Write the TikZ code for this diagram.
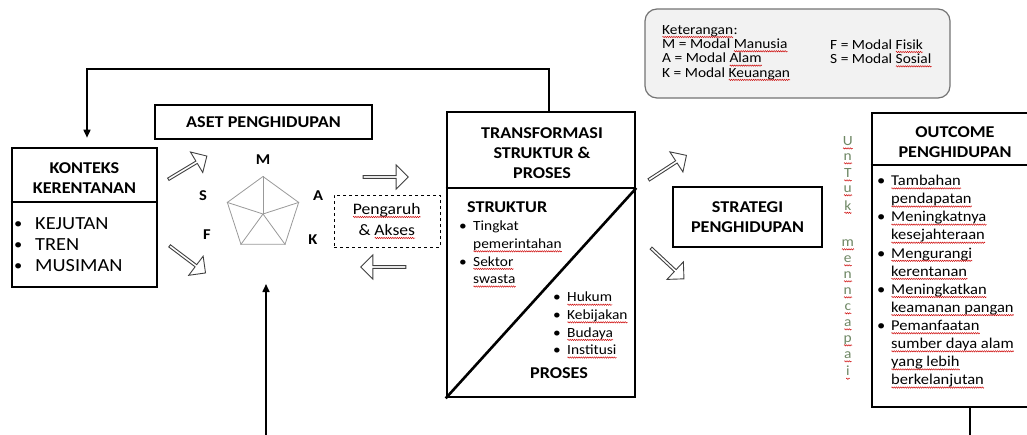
\documentclass[tikz,border=0pt]{standalone}
\usepackage{fontspec}
\setmainfont{Carlito}[FakeStretch=1.1]
\usetikzlibrary{arrows.meta,shapes.geometric,shapes.arrows,decorations.pathmorphing}

\newsavebox{\sqbox}
\newlength{\sqw}
\newcommand{\sq}[1]{\sbox{\sqbox}{#1}\setlength{\sqw}{\wd\sqbox}%
  \leavevmode\rlap{\usebox{\sqbox}}%
  \tikz[baseline=0pt,x=1pt,y=1pt]\draw[solid, red!80!black, line width=0.45pt, decorate,
    decoration={zigzag, amplitude=0.7pt, segment length=2.2pt}] (0,-2.8) -- (\sqw,-2.8);}
\newcommand{\bul}{\makebox[21pt][l]{\raisebox{1pt}{\fontsize{15}{15}\selectfont\textbullet}}}
\newcommand{\bulk}{\makebox[14pt][l]{\textbullet}}
\newcommand{\indk}{\hspace*{14pt}}
\definecolor{hijauabu}{RGB}{110,135,100}

\tikzset{
  tebal/.style={draw, line width=2.6pt},
  judul/.style={font=\fontsize{16.5}{20}\selectfont\bfseries, align=center, inner sep=0pt},
  isi/.style={font=\fontsize{18.5}{21}\selectfont, align=left, inner sep=0pt, anchor=north west},
  kecil/.style={font=\fontsize{14}{17.6}\selectfont, align=left, inner sep=0pt, anchor=north west},
  kecilb/.style={font=\fontsize{15}{18.1}\selectfont, align=left, inner sep=0pt, anchor=north west},
  ketx/.style={font=\fontsize{14}{14.3}\selectfont, align=left, inner sep=0pt, anchor=north west},
  huruf/.style={font=\fontsize{15}{16}\selectfont\bfseries, inner sep=0pt},
  panah/.style={single arrow, draw=black!75, fill=white, line width=0.9pt, minimum height=45pt,
    minimum width=24pt, single arrow head extend=3.5pt, inner sep=0pt},
  garis/.style={line width=1.6pt},
}

\begin{document}
\begin{tikzpicture}[x=1pt,y=-1pt]
  \useasboundingbox (0,0) rectangle (1027,434);
  \clip (0,0) rectangle (1027,434);

  % keterangan
  \node[draw=black!55, line width=1.2pt, fill=black!5, rounded corners=12pt,
    minimum width=305pt, minimum height=89pt] (ket) at (797.5,53.5) {};
  \node[ketx] (ketkiri) at (662,25) {\sq{Keterangan}:\\M = Modal \sq{Manusia}\\A = Modal \sq{Alam}\\K = Modal \sq{Keuangan}};
  \node[ketx] (ketkanan) at (830,39.3) {F = Modal \sq{Fisik}\\S = Modal \sq{Sosial}};

  % konteks kerentanan
  \node[tebal, minimum width=145pt, minimum height=139pt] (konteks) at (84.5,217.5) {};
  \draw[tebal] (konteks.west |- 0,202) -- (konteks.east |- 0,202);
  \node[judul] (kontekstitle) at (84.5,178) {KONTEKS\\KERENTANAN};
  \node[isi] (kontekslist) at (14,217) {\bul KEJUTAN\\\bul TREN\\\bul MUSIMAN};

  % aset penghidupan
  \node[tebal, judul, minimum width=217pt, minimum height=34pt] (aset) at (263.5,122) {ASET PENGHIDUPAN};
  \node[regular polygon, regular polygon sides=5, minimum size=75pt, draw=black!40,
    line width=0.8pt, inner sep=0pt] (pent) at (263,214) {};
  \foreach \k in {1,...,5}
    \draw[black!40, line width=0.8pt] (pent.center) -- (pent.corner \k);
  \node[huruf] (m) at (263,160) {M};
  \node[huruf] (s) at (203,196) {S};
  \node[huruf] (a) at (318,196) {A};
  \node[huruf] (f) at (207,235) {F};
  \node[huruf] (k) at (313,240) {K};

  \node[draw, dashed, line width=1pt, minimum width=106pt, minimum height=52pt,
    font=\fontsize{16}{21}\selectfont, align=center] (akses) at (387,221) {\sq{Pengaruh}\\\& \sq{Akses}};

  % panah
  \node[panah, rotate=31] (p1) at (187,168) {};
  \node[panah, rotate=-37] (p2) at (187,259) {};
  \node[panah] (p3) at (385,177) {};
  \node[panah, rotate=180] (p4) at (384,267) {};
  \node[panah, rotate=33] (p5) at (667,168) {};
  \node[panah, rotate=-43] (p6) at (667,263) {};

  % transformasi
  \node[tebal, minimum width=188pt, minimum height=285pt] (transf) at (541,254.5) {};
  \draw[tebal] (transf.west |- 0,188) -- (transf.east |- 0,188);
  \draw[tebal] (transf.south west) -- (transf.east |- 0,188);
  \node[judul] (transftitle) at (542,153) {TRANSFORMASI\\STRUKTUR \&\\PROSES};
  \node[judul, anchor=west] (struktur) at (467,207) {STRUKTUR};
  \node[kecil] (strlist) at (459,221) {\bulk Tingkat\\\indk\sq{pemerintahan}\\\bulk\sq{Sektor}\\\indk\sq{swasta}};
  \node[kecil] (proslist) at (553,292) {\bulk\sq{Hukum}\\\bulk\sq{Kebijakan}\\\bulk\sq{Budaya}\\\bulk\sq{Institusi}};
  \node[judul] (proses) at (559,373) {PROSES};

  % strategi
  \node[tebal, judul, minimum width=149pt, minimum height=60pt] (strategi) at (747.5,217) {STRATEGI\\PENGHIDUPAN};

  % untuk mencapai
  \foreach \c/\y in {U/143,n/159,T/175,u/191,k/207,m/245,e/261,n/277,n/293,c/309,a/325,p/341,a/357,i/373}
    \node[font=\fontsize{14}{14}\selectfont, text=hijauabu, inner sep=0pt] (v\y) at (848,\y) {\sq{\c}};

  % outcome
  \node[tebal, minimum width=168pt, minimum height=294pt] (outcome) at (956,260) {};
  \draw[tebal] (outcome.west |- 0,165) -- (outcome.east |- 0,165);
  \node[judul] (outcometitle) at (955,142) {OUTCOME\\PENGHIDUPAN};
  \node[kecilb] (outlist) at (877,175) {\bulk\sq{Tambahan}\\\indk\sq{pendapatan}\\\bulk\sq{Meningkatnya}\\\indk\sq{kesejahteraan}\\\bulk\sq{Mengurangi}\\\indk\sq{kerentanan}\\\bulk\sq{Meningkatkan}\\\indk\sq{keamanan pangan}\\\bulk\sq{Pemanfaatan}\\\indk\sq{sumber daya alam}\\\indk\sq{yang lebih}\\\indk\sq{berkelanjutan}};

  % garis penghubung
  \draw[garis, -{Triangle[length=8pt,width=7pt]}, shorten >=9pt]
    ([xshift=8pt]transf.north) -- ++(0,-42) -| ([xshift=2.5pt]konteks.north);
  \coordinate (bawahkiri) at (266,440);
  \coordinate (asetbawah) at (266,284);
  \draw[garis, -{Triangle[length=8pt,width=7pt]}] (bawahkiri) -- (asetbawah);
  \draw[garis] ([xshift=14pt]outcome.south) -- ++(0,40);
\end{tikzpicture}
\end{document}
